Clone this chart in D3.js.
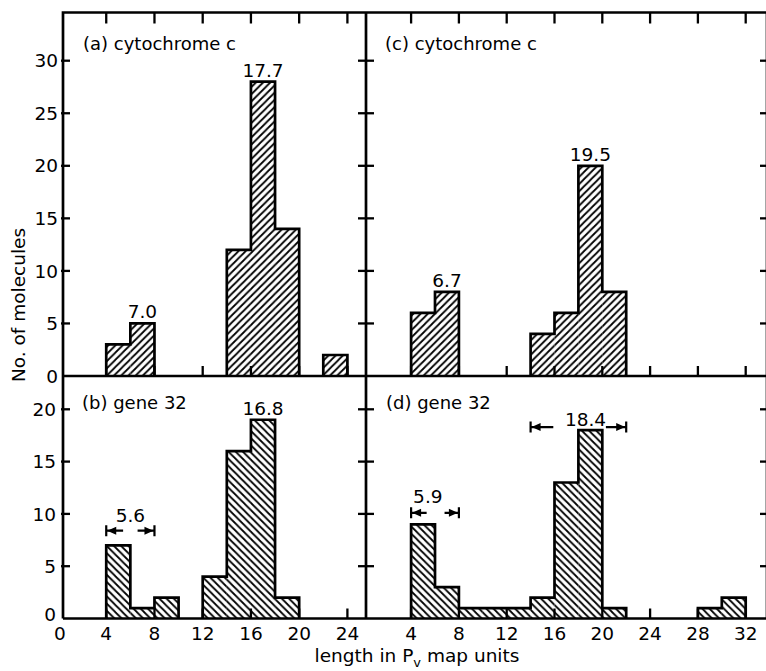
<!DOCTYPE html>
<html><head><meta charset="utf-8">
<script src="https://cdn.jsdelivr.net/npm/d3@7"></script>
<style>body{margin:0;background:#fff}svg{display:block}text{font-family:"DejaVu Sans",sans-serif;fill:#000}</style>
</head><body>
<svg id="c" width="766" height="671"></svg>
<script>
// ---- data ----
const binWidth = 2;
const startsA = [4, 6, 14, 16, 18, 22];
const countsA = [3, 5, 12, 28, 14, 2];
const startsC = [4, 6, 14, 16, 18, 20];
const countsC = [6, 8, 4, 6, 20, 8];
const startsB = [4, 6, 8, 12, 14, 16, 18];
const countsB = [7, 1, 2, 4, 16, 19, 2];
const startsD = [4, 6, 8, 10, 12, 14, 16, 18, 20, 28, 30];
const countsD = [9, 3, 1, 1, 1, 2, 13, 18, 1, 1, 2];
const xTicksLeft = [0, 4, 8, 12, 16, 20, 24];
const xTicksRight = [4, 8, 12, 16, 20, 24, 28, 32];
const yTicksTop = [0, 5, 10, 15, 20, 25, 30];
const yTicksBottom = [0, 5, 10, 15, 20];
const titles = ["(a) cytochrome c", "(c) cytochrome c", "(b) gene 32", "(d) gene 32"];
const peakLabelsA = [{x: 7, c: 5, t: "7.0"}, {x: 17, c: 28, t: "17.7"}];
const peakLabelsC = [{x: 7, c: 8, t: "6.7"}, {x: 19, c: 20, t: "19.5"}];
const peakLabelsB = [{x: 17, c: 19, t: "16.8"}];
const spansB = [{from: 4, to: 8, innerL: 5.4, innerR: 6.6, level: 8.4, t: "5.6", tx: 6, tLevel: 9.2}];
const spansD = [{from: 4, to: 8, innerL: 5.3, innerR: 6.8, level: 10.1, t: "5.9", tx: 5.4, tLevel: 11.0},
                {from: 14, to: 22, innerL: 15.9, innerR: 20.3, level: 18.3, t: "18.4", tx: 18.6, tLevel: 18.4}];
const xTitle = "length in P";
const xTitleSub = "v";
const xTitleEnd = " map units";
const yTitle = "No. of molecules";

// ---- layout ----
const L = 63, M = 366, R = 767, T = 12.5, MID = 376, B = 618.5;
const svg = d3.select("#c");
const xL = d3.scaleLinear().domain([0, 24]).range([58, 347.4]);
const xR = d3.scaleLinear().domain([0, 32]).range([363.3, 745.7]);
const yT = d3.scaleLinear().domain([0, 30]).range([MID, 60.7]);
const yB = d3.scaleLinear().domain([0, 20]).range([B, 409.3]);

// hatch patterns
const defs = svg.append("defs");
function hatch(id, dir) {
  const p = defs.append("pattern").attr("id", id).attr("patternUnits", "userSpaceOnUse")
    .attr("width", 7.2).attr("height", 7.2);
  p.append("path")
    .attr("d", dir > 0 ? "M-1.8,1.8 L1.8,-1.8 M0,7.2 L7.2,0 M5.4,9 L9,5.4" : "M-1.8,5.4 L1.8,9 M0,0 L7.2,7.2 M5.4,-1.8 L9,1.8")
    .attr("stroke", "#000").attr("stroke-width", 1.8);
}
hatch("up", 1);
hatch("down", -1);

function drawHist(starts, counts, x, y, pat) {
  const g = svg.append("g");
  const data = starts.map((s, i) => ({s, c: counts[i]}));
  g.selectAll("rect").data(data).join("rect")
    .attr("x", d => x(d.s)).attr("width", d => x(d.s + binWidth) - x(d.s))
    .attr("y", d => y(d.c)).attr("height", d => y(0) - y(d.c))
    .attr("fill", `url(#${pat})`);
  const groups = [];
  data.forEach(d => {
    const last = groups[groups.length - 1];
    if (last && last[last.length - 1].s + binWidth === d.s) last.push(d); else groups.push([d]);
  });
  groups.forEach(gr => {
    const p = d3.path();
    p.moveTo(x(gr[0].s), y(0));
    gr.forEach(d => { p.lineTo(x(d.s), y(d.c)); p.lineTo(x(d.s + binWidth), y(d.c)); });
    p.lineTo(x(gr[gr.length - 1].s + binWidth), y(0));
    g.append("path").attr("d", p.toString()).attr("fill", "none")
      .attr("stroke", "#000").attr("stroke-width", 2.7).attr("stroke-linejoin", "miter");
  });
}
drawHist(startsA, countsA, xL, yT, "up");
drawHist(startsC, countsC, xR, yT, "up");
drawHist(startsB, countsB, xL, yB, "down");
drawHist(startsD, countsD, xR, yB, "down");

// ---- frame ----
const fr = svg.append("g").attr("stroke", "#000").attr("stroke-width", 2.7).attr("fill", "none");
fr.append("path").attr("d", `M${L},${B} V${T} H${R + 5} M${L},${B} H${R + 5} M${L},${MID} H${R + 5} M${M},${T} V${B} M${R},${T} V${B}`);

// ticks (inward)
const tk = svg.append("g").attr("stroke", "#000").attr("stroke-width", 2.3);
function xTicks(scale, vals) {
  const v = vals.filter(d => d > 0);
  tk.selectAll(null).data(v).join("line").attr("x1", d => scale(d)).attr("x2", d => scale(d)).attr("y1", T).attr("y2", T + 11);
  tk.selectAll(null).data(v).join("line").attr("x1", d => scale(d)).attr("x2", d => scale(d)).attr("y1", MID).attr("y2", MID - 10);
  tk.selectAll(null).data(v).join("line").attr("x1", d => scale(d)).attr("x2", d => scale(d)).attr("y1", B).attr("y2", B - 10);
}
xTicks(xL, xTicksLeft);
xTicks(xR, xTicksRight);
function yTicks(scale, vals) {
  const v = vals.filter(d => d > 0);
  tk.selectAll(null).data(v).join("line").attr("x1", L - 2).attr("x2", L + 7).attr("y1", d => scale(d)).attr("y2", d => scale(d));
  tk.selectAll(null).data(v).join("line").attr("x1", M - 8).attr("x2", M + 8).attr("y1", d => scale(d)).attr("y2", d => scale(d));
  tk.selectAll(null).data(v).join("line").attr("x1", R - 7).attr("x2", R).attr("y1", d => scale(d)).attr("y2", d => scale(d));
}
yTicks(yT, yTicksTop);
yTicks(yB, yTicksBottom);

// ---- tick labels ----
const fs = 18.5;
const lab = svg.append("g").attr("font-size", fs);
lab.selectAll(null).data(yTicksTop).join("text").attr("x", 58).attr("y", d => yT(d)).attr("dy", "0.36em")
  .attr("text-anchor", "end").text(d => d);
lab.selectAll(null).data(yTicksBottom).join("text").attr("x", 56).attr("y", d => yB(d)).attr("dy", d => d === 0 ? "0.15em" : "0.36em")
  .attr("text-anchor", "end").text(d => d);
lab.selectAll(null).data(xTicksLeft).join("text").attr("x", d => xL(d) + (d === 0 ? 2 : 0)).attr("y", 640)
  .attr("text-anchor", "middle").text(d => d);
lab.selectAll(null).data(xTicksRight).join("text").attr("x", d => xR(d)).attr("y", 640)
  .attr("text-anchor", "middle").text(d => d);

// axis titles
const xt = svg.append("text").attr("x", 417).attr("y", 662).attr("text-anchor", "middle").attr("font-size", fs);
xt.append("tspan").text(xTitle);
xt.append("tspan").attr("font-size", 13).attr("dy", 5).text(xTitleSub);
xt.append("tspan").attr("dy", -5).text(xTitleEnd);
svg.append("text").attr("transform", "translate(25,305) rotate(-90)").attr("text-anchor", "middle")
  .attr("font-size", fs).text(yTitle);

// panel titles
const tpos = [[83, 50], [385, 50], [82, 409], [386, 409]];
titles.forEach((t, i) => svg.append("text").attr("x", tpos[i][0]).attr("y", tpos[i][1]).attr("font-size", 18).text(t));

// peak labels
function peaks(list, x, y) {
  svg.append("g").attr("font-size", fs).selectAll("text").data(list).join("text")
    .attr("x", d => x(d.x)).attr("y", d => y(d.c) - 5).attr("text-anchor", "middle").text(d => d.t);
}
peaks(peakLabelsA, xL, yT);
peaks(peakLabelsC, xR, yT);
peaks(peakLabelsB, xL, yB);

// span arrows
function spans(list, x, y) {
  const g = svg.append("g");
  list.forEach(d => {
    const yy = y(d.level), a = x(d.from), b = x(d.to);
    g.append("path").attr("stroke", "#000").attr("stroke-width", 2.2).attr("fill", "none")
      .attr("d", `M${a},${yy - 5.5} V${yy + 5.5} M${a},${yy} H${x(d.innerL)} M${b},${yy - 5.5} V${yy + 5.5} M${b},${yy} H${x(d.innerR)}`);
    g.append("path").attr("fill", "#000")
      .attr("d", `M${a + 1},${yy} L${a + 10},${yy - 4} L${a + 10},${yy + 4} Z M${b - 1},${yy} L${b - 10},${yy - 4} L${b - 10},${yy + 4} Z`);
    g.append("text").attr("font-size", fs).attr("x", x(d.tx)).attr("y", y(d.tLevel)).attr("text-anchor", "middle").text(d.t);
  });
}
spans(spansB, xL, yB);
spans(spansD, xR, yB);
</script>
</body></html>
